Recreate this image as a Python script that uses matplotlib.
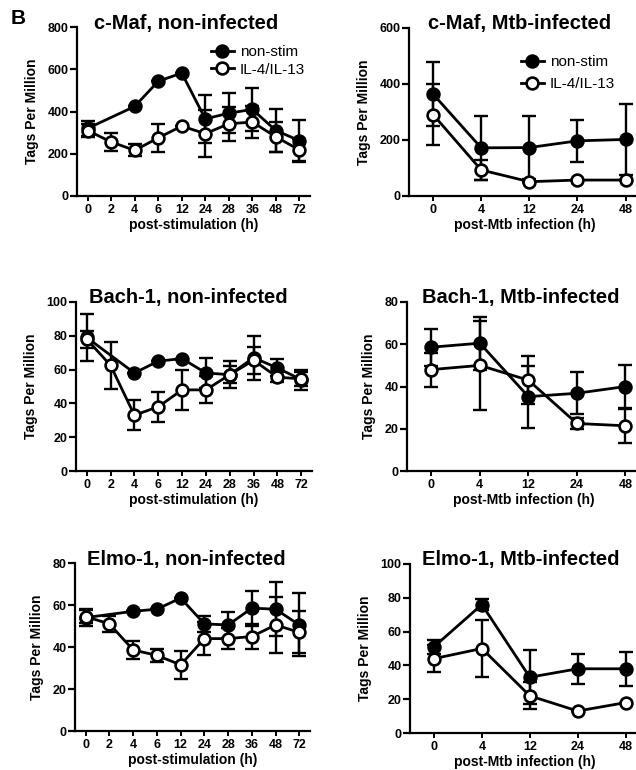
import numpy as np
import matplotlib
matplotlib.use("Agg")
import matplotlib.pyplot as plt

plt.rcParams['font.family'] = ['Liberation Sans', 'DejaVu Sans']

# ---------------- data ----------------
stim_times = ['0', '2', '4', '6', '12', '24', '28', '36', '48', '72']
mtb_times = ['0', '4', '12', '24', '48']
series_names = ['non-stim', 'IL-4/IL-13']

# c-Maf, non-infected
cmaf_ni_ns = [320, np.nan, 424, 543, 582, 365, 392, 410, 310, 262]
cmaf_ni_ns_err = [35, np.nan, 0, 0, 0, 115, 95, 100, 100, 100]
cmaf_ni_il = [310, 256, 216, 275, 331, 295, 342, 350, 280, 218]
cmaf_ni_il_err = [30, 44, 28, 65, 0, 110, 80, 75, 70, 50]

# c-Maf, Mtb-infected
cmaf_mtb_ns = [364, 172, 173, 197, 202]
cmaf_mtb_ns_err = [115, 115, 111, 76, 128]
cmaf_mtb_il = [291, 93, 51, 57, 57]
cmaf_mtb_il_err = [110, 35, 0, 0, 0]

# Bach-1, non-infected
bach_ni_ns = [79, np.nan, 58, 65, 66.5, 58, 57, 67, 61, 54]
bach_ni_ns_err = [14, np.nan, 0, 0, 0, 9, 8, 13, 5, 6]
bach_ni_il = [78, 62.5, 33, 38, 48, 48, 57, 65.5, 55.5, 54.5]
bach_ni_il_err = [5, 14, 9, 9, 12, 8, 5, 8, 3, 4]

# Bach-1, Mtb-infected
bach_mtb_ns = [58.6, 60.5, 35.2, 36.8, 40]
bach_mtb_ns_err = [8.8, 12.5, 14.7, 10, 10]
bach_mtb_il = [48, 50, 43, 22.5, 21.4]
bach_mtb_il_err = [8, 21, 11.5, 2.5, 8]

# Elmo-1, non-infected
elmo_ni_ns = [54, np.nan, 57, 58, 63.3, 51, 50.5, 58.5, 58, 50.5]
elmo_ni_ns_err = [4, np.nan, 0, 0, 0, 4, 6.4, 8.3, 12.8, 15]
elmo_ni_il = [54.5, 51, 38.6, 36, 31.5, 44, 44, 45, 50.5, 47]
elmo_ni_il_err = [3, 4, 4.3, 3, 6.7, 8, 5, 6, 13.5, 10]

# Elmo-1, Mtb-infected
elmo_mtb_ns = [51, 76, 33, 38, 38]
elmo_mtb_ns_err = [4, 3.5, 16, 9, 10]
elmo_mtb_il = [44, 50, 22, 13, 18]
elmo_mtb_il_err = [8, 17, 8, 0, 0]

W, H = 636, 770
fig = plt.figure(figsize=(W / 100, H / 100), dpi=100)


def add_ax(left, right, top, bottom):
    return fig.add_axes([left / W, 1 - bottom / H, (right - left) / W, (bottom - top) / H])


def draw_series(ax, x, y, e, filled):
    x = np.asarray(x, float)
    y = np.asarray(y, float)
    e = np.asarray(e, float)
    m = ~np.isnan(y)
    ax.errorbar(x[m], y[m], yerr=e[m], fmt='none', ecolor='black', elinewidth=1.7,
                capsize=5, capthick=1.7, zorder=2)
    line, = ax.plot(x[m], y[m], '-', color='black', lw=2.0, marker='o', ms=8.5,
                    mfc='black' if filled else 'white', mec='black', mew=1.9,
                    zorder=3 if filled else 4)
    return line


def style(ax, labels, ymax, ystep, title, title_x, xlabel, xlim):
    ax.set_xticks(range(len(labels)))
    ax.set_xticklabels(labels, fontsize=9, fontweight='bold')
    ax.set_ylim(0, ymax)
    ax.set_yticks(np.arange(0, ymax + 1, ystep))
    ax.set_yticklabels([str(int(v)) for v in np.arange(0, ymax + 1, ystep)],
                       fontsize=9, fontweight='bold')
    ax.set_xlim(*xlim)
    for s in ['top', 'right']:
        ax.spines[s].set_visible(False)
    for s in ['left', 'bottom']:
        ax.spines[s].set_linewidth(1.6)
    ax.tick_params(axis='y', length=5, width=1.6, pad=1)
    ax.tick_params(axis='x', length=3.5, width=1.4, pad=2)
    ax.set_ylabel('Tags Per Million', fontsize=10, fontweight='bold', labelpad=6)
    if xlabel:
        ax.set_xlabel(xlabel, fontsize=10, fontweight='bold', labelpad=2)
    pos = ax.get_position()
    fig.text(title_x / W, pos.y1 - 1.5 / H, title, ha='center', va='baseline',
             fontsize=14.5, fontweight='bold')
    ax.patch.set_alpha(0)


left_xlim = (-0.45, 9.45)
right_xlim = (-0.5, 4.3)

panels = [
    ((77, 310, 27, 196), stim_times, cmaf_ni_ns, cmaf_ni_ns_err, cmaf_ni_il, cmaf_ni_il_err, 800, 200,
     'c-Maf, non-infected', 186, 'post-stimulation (h)', left_xlim),
    ((409, 640, 28, 196), mtb_times, cmaf_mtb_ns, cmaf_mtb_ns_err, cmaf_mtb_il, cmaf_mtb_il_err, 600, 200,
     'c-Maf, Mtb-infected', 520, 'post-Mtb infection (h)', right_xlim),
    ((76, 312, 302, 471), stim_times, bach_ni_ns, bach_ni_ns_err, bach_ni_il, bach_ni_il_err, 100, 20,
     'Bach-1, non-infected', 188, 'post-stimulation (h)', left_xlim),
    ((407, 640, 302, 471), mtb_times, bach_mtb_ns, bach_mtb_ns_err, bach_mtb_il, bach_mtb_il_err, 80, 20,
     'Bach-1, Mtb-infected', 521, 'post-Mtb infection (h)', right_xlim),
    ((75, 310, 563, 731), stim_times, elmo_ni_ns, elmo_ni_ns_err, elmo_ni_il, elmo_ni_il_err, 80, 20,
     'Elmo-1, non-infected', 186, 'post-stimulation (h)', left_xlim),
    ((410, 640, 564, 733), mtb_times, elmo_mtb_ns, elmo_mtb_ns_err, elmo_mtb_il, elmo_mtb_il_err, 100, 20,
     'Elmo-1, Mtb-infected', 521, 'post-Mtb infection (h)', right_xlim),
]

axes = []
for (box, labels, ns, nse, il, ile, ymax, ystep, title, tx, xlabel, xlim) in panels:
    ax = add_ax(*box)
    x = np.arange(len(labels))
    l1 = draw_series(ax, x, ns, nse, True)
    l2 = draw_series(ax, x, il, ile, False)
    style(ax, labels, ymax, ystep, title, tx, xlabel, xlim)
    axes.append((ax, l1, l2))

# legends in the two top panels
for idx, (lx, ly, sp) in zip([0, 1], [(211, 45, 0.25), (521, 55, 0.55)]):
    ax, l1, l2 = axes[idx]
    ax.legend([l1, l2], series_names, loc='upper left', bbox_to_anchor=(lx / W, 1 - ly / H),
              bbox_transform=fig.transFigure, frameon=False, fontsize=11, handlelength=1.5,
              handletextpad=0.4, borderpad=0, borderaxespad=0, labelspacing=sp)

fig.text(18 / W, 1 - 18 / H, 'B', fontsize=15, fontweight='bold', ha='center', va='center')

fig.savefig('out.png', dpi=100)
